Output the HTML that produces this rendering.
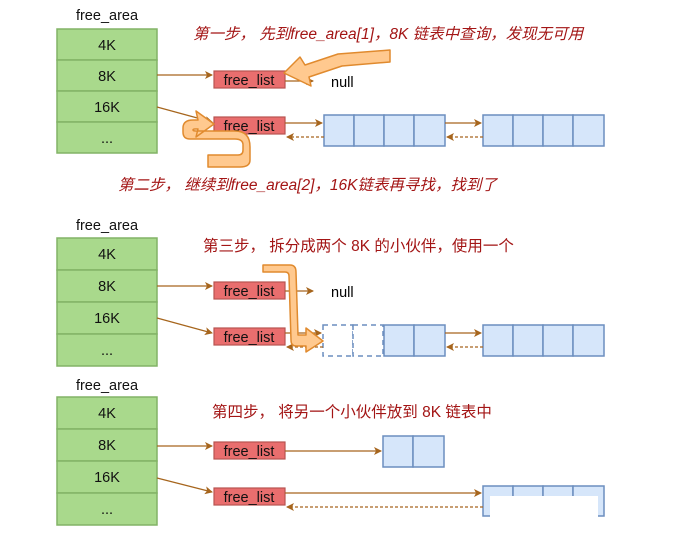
<!DOCTYPE html>
<html><head><meta charset="utf-8"><style>
html,body{margin:0;padding:0;background:#fff;}
svg{display:block;font-family:"Liberation Sans","Noto Sans CJK SC",sans-serif;}
.g{fill:#a9d98c;stroke:#82b366;stroke-width:1.5}
.fl{fill:#e96e6e;stroke:#b85450;stroke-width:1.2}
.b{fill:#d6e6fa;stroke:#6c8ebf;stroke-width:1.5}
.ln{stroke:#a6651d;stroke-width:1.2;fill:none}
.dl{stroke:#a6651d;stroke-width:1.2;fill:none;stroke-dasharray:3,2}
.oa{fill:#ffc98f;stroke:#e08a2e;stroke-width:1.5;stroke-linejoin:round}
.t{font-size:14.5px;fill:#111;text-anchor:middle}
.r{font-size:15.5px;fill:#a31515}
</style></head><body>
<svg width="673" height="542" viewBox="0 0 673 542">
<defs><marker id="a" markerWidth="8" markerHeight="8" refX="7" refY="4" orient="auto" markerUnits="userSpaceOnUse"><path d="M0,0 L8,4 L0,8 L2,4z" fill="#a6651d"/></marker></defs>

<!-- Section 1 -->
<text x="107" y="20" class="t">free_area</text>
<rect class="g" x="57" y="29" width="100" height="31"/><text class="t" x="107" y="50">4K</text>
<rect class="g" x="57" y="60" width="100" height="31"/><text class="t" x="107" y="81">8K</text>
<rect class="g" x="57" y="91" width="100" height="31"/><text class="t" x="107" y="112">16K</text>
<rect class="g" x="57" y="122" width="100" height="31"/><text class="t" x="107" y="143">...</text>
<rect class="fl" x="214" y="71" width="71" height="17"/><text class="t" x="249" y="85">free_list</text>
<rect class="fl" x="214" y="117" width="71" height="17"/><text class="t" x="249" y="131">free_list</text>
<line class="ln" x1="157" y1="75" x2="212" y2="75" marker-end="url(#a)"/>
<line class="ln" x1="157" y1="107" x2="212" y2="122" marker-end="url(#a)"/>
<line class="ln" x1="285" y1="81" x2="313" y2="81" marker-end="url(#a)"/>
<text x="331" y="87" style="font-size:14.5px">null</text>
<g class="b"><rect x="324" y="115" width="30" height="31"/><rect x="354" y="115" width="30" height="31"/><rect x="384" y="115" width="30" height="31"/><rect x="414" y="115" width="31" height="31"/>
<rect x="483" y="115" width="30" height="31"/><rect x="513" y="115" width="30" height="31"/><rect x="543" y="115" width="30" height="31"/><rect x="573" y="115" width="31" height="31"/></g>
<line class="ln" x1="285" y1="123" x2="322" y2="123" marker-end="url(#a)"/>
<line class="dl" x1="324" y1="137" x2="287" y2="137" marker-end="url(#a)"/>
<line class="ln" x1="445" y1="123" x2="481" y2="123" marker-end="url(#a)"/>
<line class="dl" x1="483" y1="137" x2="447" y2="137" marker-end="url(#a)"/>
<path class="oa" d="M390,50 L390,62 L342,66 L309,77 L311,86 L284,73 L300,57 L305,65 L338,54z"/>
<path class="oa" d="M208,155 L238,155 Q243,155 243,150 L243,145 Q243,139 235,139 L190,139 Q183,139 183,132 L183,128 Q183,120 193,120 L198,120 L196,111 L214,124 L196,137 L198,129 L195,129 Q193,129 193,130 Q193,131 196,131 L235,131 Q250,131 250,147 L250,160 Q250,167 240,167 L208,167z"/>
<text class="r" x="193" y="39" font-style="italic">第一步， 先到free_area[1]，8K 链表中查询，发现无可用</text>
<text class="r" x="118" y="190" font-style="italic">第二步， 继续到free_area[2]，16K链表再寻找，找到了</text>

<!-- Section 2 -->
<text x="107" y="230" class="t">free_area</text>
<rect class="g" x="57" y="238" width="100" height="32"/><text class="t" x="107" y="259">4K</text>
<rect class="g" x="57" y="270" width="100" height="32"/><text class="t" x="107" y="291">8K</text>
<rect class="g" x="57" y="302" width="100" height="32"/><text class="t" x="107" y="323">16K</text>
<rect class="g" x="57" y="334" width="100" height="32"/><text class="t" x="107" y="355">...</text>
<rect class="fl" x="214" y="282" width="71" height="17"/><text class="t" x="249" y="296">free_list</text>
<rect class="fl" x="214" y="328" width="71" height="17"/><text class="t" x="249" y="342">free_list</text>
<line class="ln" x1="157" y1="286" x2="212" y2="286" marker-end="url(#a)"/>
<line class="ln" x1="157" y1="318" x2="212" y2="333" marker-end="url(#a)"/>
<line class="ln" x1="285" y1="291" x2="313" y2="291" marker-end="url(#a)"/>
<text x="331" y="297" style="font-size:14.5px">null</text>
<g class="b"><rect x="323" y="325" width="30" height="31" style="fill:#fff;stroke-dasharray:5,4"/><rect x="353" y="325" width="30" height="31" style="fill:#fff;stroke-dasharray:5,4"/><rect x="384" y="325" width="30" height="31"/><rect x="414" y="325" width="31" height="31"/>
<rect x="483" y="325" width="30" height="31"/><rect x="513" y="325" width="30" height="31"/><rect x="543" y="325" width="30" height="31"/><rect x="573" y="325" width="31" height="31"/></g>
<line class="ln" x1="285" y1="333" x2="321" y2="333" marker-end="url(#a)"/>
<line class="dl" x1="323" y1="347" x2="287" y2="347" marker-end="url(#a)"/>
<line class="ln" x1="445" y1="333" x2="481" y2="333" marker-end="url(#a)"/>
<line class="dl" x1="483" y1="347" x2="447" y2="347" marker-end="url(#a)"/>
<path class="oa" d="M263,265 L290,265 Q296,265 296,272 L298,335 L306,335 L306,328 L323,341 L306,352 L306,346 L296,346 Q291,346 291,340 L289,276 Q289,272 285,272 L263,272z"/>
<text class="r" x="203" y="251">第三步， 拆分成两个 8K 的小伙伴，使用一个</text>

<!-- Section 3 -->
<text x="107" y="390" class="t">free_area</text>
<rect class="g" x="57" y="397" width="100" height="32"/><text class="t" x="107" y="418">4K</text>
<rect class="g" x="57" y="429" width="100" height="32"/><text class="t" x="107" y="450">8K</text>
<rect class="g" x="57" y="461" width="100" height="32"/><text class="t" x="107" y="482">16K</text>
<rect class="g" x="57" y="493" width="100" height="32"/><text class="t" x="107" y="514">...</text>
<rect class="fl" x="214" y="442" width="71" height="17"/><text class="t" x="249" y="456">free_list</text>
<rect class="fl" x="214" y="488" width="71" height="17"/><text class="t" x="249" y="502">free_list</text>
<line class="ln" x1="157" y1="446" x2="212" y2="446" marker-end="url(#a)"/>
<line class="ln" x1="157" y1="478" x2="212" y2="492" marker-end="url(#a)"/>
<g class="b"><rect x="383" y="436" width="30" height="31"/><rect x="413" y="436" width="31" height="31"/>
<rect x="483" y="486" width="30" height="30"/><rect x="513" y="486" width="30" height="30"/><rect x="543" y="486" width="30" height="30"/><rect x="573" y="486" width="31" height="30"/></g>
<rect x="490" y="496" width="108" height="22" fill="#fff"/>
<line class="ln" x1="285" y1="451" x2="381" y2="451" marker-end="url(#a)"/>
<line class="ln" x1="285" y1="493" x2="481" y2="493" marker-end="url(#a)"/>
<line class="dl" x1="483" y1="507" x2="287" y2="507" marker-end="url(#a)"/>
<text class="r" x="212" y="417">第四步， 将另一个小伙伴放到 8K 链表中</text>
</svg>
</body></html>
